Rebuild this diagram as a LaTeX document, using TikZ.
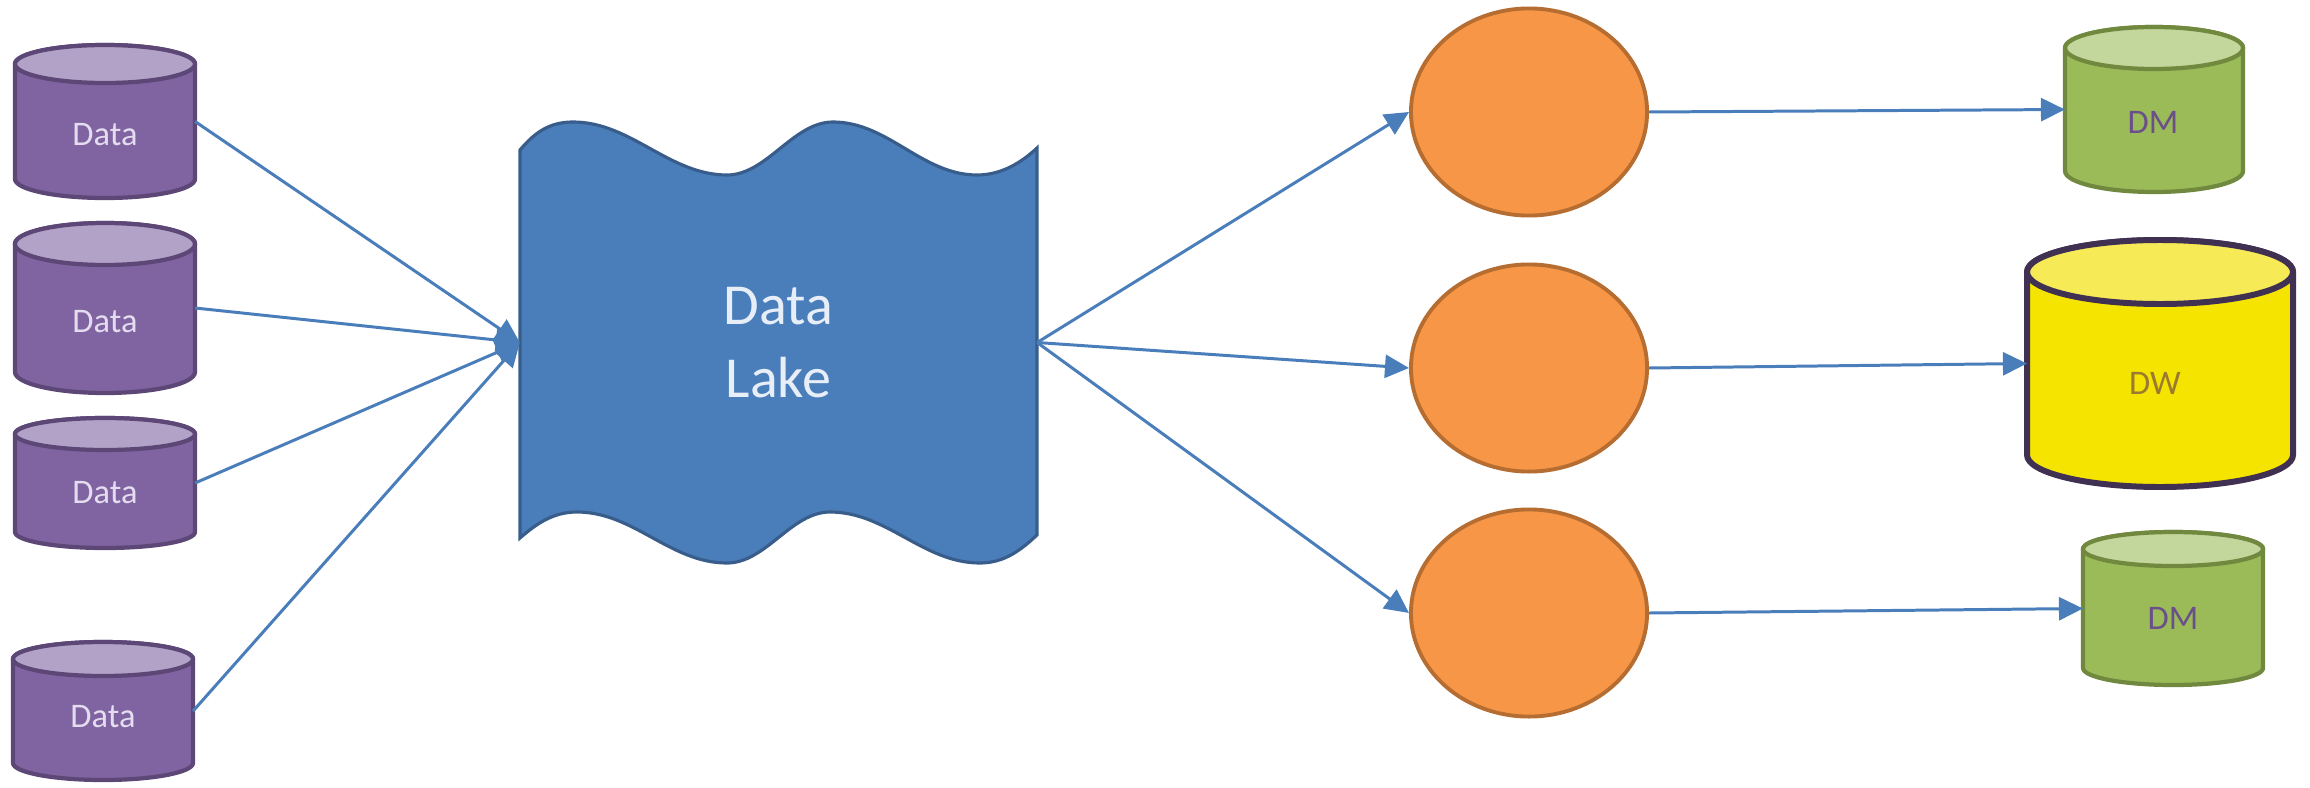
\documentclass[tikz,border=0pt]{standalone}
\usepackage{fontspec}
\setmainfont{Carlito}
\usetikzlibrary{shapes.geometric,arrows.meta}
\definecolor{purbody}{HTML}{8064A2}
\definecolor{purtop}{HTML}{B3A2C7}
\definecolor{purline}{HTML}{5C4776}
\definecolor{purtext}{HTML}{E4DCEF}
\definecolor{grnbody}{HTML}{9BBB59}
\definecolor{grntop}{HTML}{C3D69B}
\definecolor{grnline}{HTML}{71893F}
\definecolor{dmtext}{HTML}{6A4F8A}
\definecolor{yelbody}{HTML}{F5E300}
\definecolor{yeltop}{HTML}{F6EA57}
\definecolor{dwline}{HTML}{403152}
\definecolor{dwtext}{HTML}{9A7A30}
\definecolor{orgfill}{HTML}{F79646}
\definecolor{orgline}{HTML}{B66D31}
\definecolor{lakefill}{HTML}{4A7EBB}
\definecolor{lakeline}{HTML}{385D8A}
\definecolor{laketext}{HTML}{E8EEF8}
\definecolor{arrowblue}{HTML}{4A7EBB}
\tikzset{
  anchorbox/.style={rectangle, inner sep=0pt, outer sep=0pt, draw=none},
  conn/.style={draw=arrowblue, line width=0.85pt, -{Triangle[length=0.24cm,width=0.23cm]}},
  proc/.style={ellipse, draw=orgline, fill=orgfill, line width=1.1pt, inner sep=0pt,
    minimum width=2.36cm, minimum height=2.07cm},
  datacyl/.style={draw=purline, line width=1.2pt},
  dmcyl/.style={draw=grnline, line width=1.2pt},
  dwcyl/.style={draw=dwline, line width=1.7pt},
  cyltext/.style={font=\fontsize{9.8}{11}\selectfont, inner sep=0pt},
  lakebox/.style={anchorbox, align=center, text=laketext, font=\fontsize{16.5}{20.8}\selectfont},
  lakeshape/.style={draw=lakeline, fill=lakefill, line width=0.9pt},
}
\newcommand\dbcyl[9]{%
  \pgfmathsetmacro\cxv{(#2+#3)/2}%
  \pgfmathsetmacro\hwv{(#3-#2)/2}%
  \pgfmathsetmacro\ytv{787-#4-#6}%
  \pgfmathsetmacro\ybv{787-#5+#6}%
  \pgfmathsetmacro\cyv{787-(#4+#5)/2}%
  \pgfmathsetmacro\hv{#5-#4}%
  \draw[#9, fill=#7] (#2,\ytv) -- (#2,\ybv)
     arc[start angle=180, end angle=360, x radius={\hwv*0.01cm}, y radius={#6*0.01cm}]
     -- (#3,\ytv)
     arc[start angle=0, end angle=180, x radius={\hwv*0.01cm}, y radius={#6*0.01cm}] -- cycle;
  \draw[#9, fill=#8] (\cxv,\ytv) ellipse[x radius={\hwv*0.01cm}, y radius={#6*0.01cm}];
  \node[anchorbox, minimum width={\hwv*0.02cm}, minimum height={\hv*0.01cm}] (#1) at (\cxv,\cyv) {};
}
\begin{document}
\begin{tikzpicture}[x=0.01cm,y=0.01cm]
\useasboundingbox (0,0) rectangle (2310,787);

% data sources
\dbcyl{d1}{15}{195}{45}{198}{19}{purbody}{purtop}{datacyl}
\dbcyl{d2}{15}{195}{223}{393}{21}{purbody}{purtop}{datacyl}
\dbcyl{d3}{15}{195}{418}{548}{16}{purbody}{purtop}{datacyl}
\dbcyl{d4}{13}{193}{642}{780}{17}{purbody}{purtop}{datacyl}
\node[cyltext, text=purtext] (d1t) at (105,787-135) {Data};
\node[cyltext, text=purtext] (d2t) at (105,787-322) {Data};
\node[cyltext, text=purtext] (d3t) at (105,787-493) {Data};
\node[cyltext, text=purtext] (d4t) at (103,787-717) {Data};

% data lake
\draw[lakeshape] (520,637) .. controls (535,655) and (550,665) .. (573,665)
  .. controls (631,665) and (669,612) .. (727,612)
  .. controls (767,612) and (793,665) .. (833,665)
  .. controls (888,665) and (922,612) .. (977,612)
  .. controls (1002,612) and (1022,625) .. (1037,639)
  -- (1037,252)
  .. controls (1022,238) and (1005,224) .. (980,224)
  .. controls (923,224) and (887,275) .. (830,275)
  .. controls (791,275) and (766,224) .. (727,224)
  .. controls (670,224) and (634,275) .. (577,275)
  .. controls (552,275) and (535,262) .. (520,249)
  -- cycle;
\node[lakebox, minimum width=5.17cm, minimum height=4.41cm] (lake) at (778.5,444.5) {Data\\Lake};

% processes
\node[proc] (e1) at (1529,787-112) {};
\node[proc] (e2) at (1529,787-368) {};
\node[proc] (e3) at (1529,787-613) {};

% targets
\dbcyl{m1}{2065}{2243}{27}{192}{21}{grnbody}{grntop}{dmcyl}
\dbcyl{w}{2027}{2293}{240}{487}{32}{yelbody}{yeltop}{dwcyl}
\dbcyl{m2}{2083}{2263}{532}{685}{17}{grnbody}{grntop}{dmcyl}
\node[cyltext, text=dmtext] (m1t) at (2153,787-122) {DM};
\node[cyltext, text=dwtext] (wt) at (2155,787-383) {DW};
\node[cyltext, text=dmtext] (m2t) at (2173,787-618) {DM};

% connectors
\draw[conn] (d1.east) -- (lake.west);
\draw[conn] (d2.east) -- (lake.west);
\draw[conn] (d3.east) -- (lake.west);
\draw[conn] (d4.east) -- (lake.west);
\draw[conn] (lake.east) -- (e1.west);
\draw[conn] (lake.east) -- (e2.west);
\draw[conn] (lake.east) -- (e3.west);
\draw[conn] (e1.east) -- (m1.west);
\draw[conn] (e2.east) -- (w.west);
\draw[conn] (e3.east) -- (m2.west);
\end{tikzpicture}
\end{document}
